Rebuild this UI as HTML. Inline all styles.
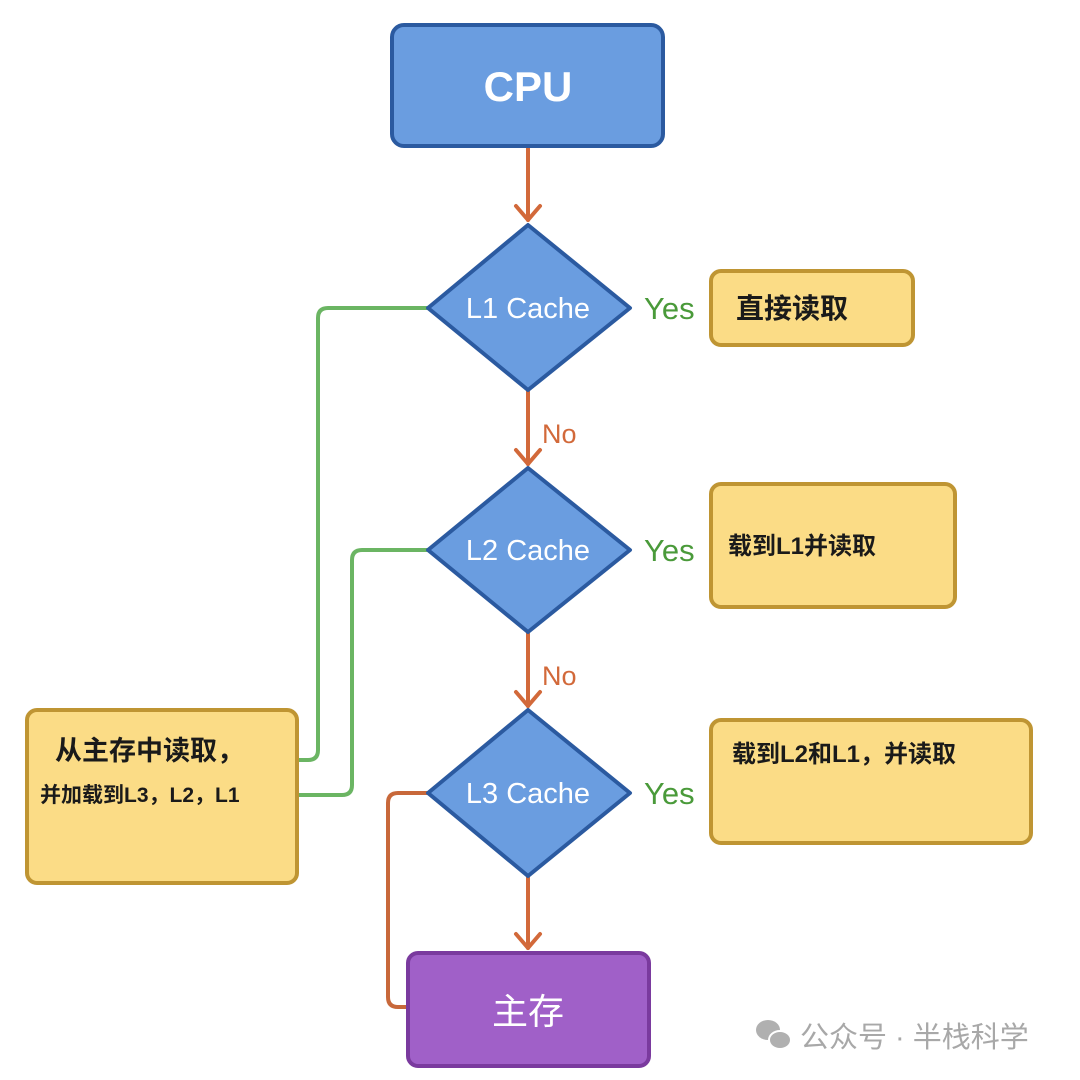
<!DOCTYPE html>
<html><head><meta charset="utf-8"><style>
html,body{margin:0;padding:0;background:#fff;width:1080px;height:1080px;overflow:hidden}
svg text{font-family:"Liberation Sans","Noto Sans CJK SC",sans-serif}
</style></head><body>
<svg width="1080" height="1080" viewBox="0 0 1080 1080" xmlns="http://www.w3.org/2000/svg">
<rect width="1080" height="1080" fill="#fff"/>
<g fill="none" stroke-width="4" stroke-linecap="round" stroke-linejoin="round">
<path d="M428 308 H328 Q318 308 318 318 V750 Q318 760 308 760 H297" stroke="#6bb563"/>
<path d="M428 550 H362 Q352 550 352 560 V785 Q352 795 342 795 H297" stroke="#6bb563"/>
<path d="M428 793 H398 Q388 793 388 803 V997 Q388 1007 398 1007 H408" stroke="#c8683a"/>
<g stroke="#d2693a">
<path d="M528 146 V220"/><path d="M516 206 L528 220 L540 206"/>
<path d="M528 390 V464"/><path d="M516 450 L528 464 L540 450"/>
<path d="M528 632 V706"/><path d="M516 692 L528 706 L540 692"/>
<path d="M528 876 V948"/><path d="M516 934 L528 948 L540 934"/>
</g>
</g>
<rect x="392" y="25" width="271" height="121" rx="12" fill="#6a9de0" stroke="#2b5aa0" stroke-width="4"/>
<text x="528" y="101" font-size="42" font-weight="bold" fill="#fff" text-anchor="middle">CPU</text>
<g fill="#6a9de0" stroke="#2b5aa0" stroke-width="4" stroke-linejoin="round">
<polygon points="528,225 630,308 528,390 428,308"/>
<polygon points="528,468 630,550 528,632 428,550"/>
<polygon points="528,710 630,793 528,876 428,793"/>
</g>
<g font-size="29" fill="#fff" text-anchor="middle">
<text x="528" y="318">L1 Cache</text>
<text x="528" y="560">L2 Cache</text>
<text x="528" y="803">L3 Cache</text>
</g>
<g font-size="31" fill="#4a9a3a">
<text x="644" y="319">Yes</text>
<text x="644" y="561">Yes</text>
<text x="644" y="804">Yes</text>
</g>
<g font-size="27" fill="#d2693a">
<text x="542" y="443">No</text>
<text x="542" y="685">No</text>
</g>
<g fill="#fbdc86" stroke="#bf9533" stroke-width="4">
<rect x="711" y="271" width="202" height="74" rx="10"/>
<rect x="711" y="484" width="244" height="123" rx="10"/>
<rect x="711" y="720" width="320" height="123" rx="10"/>
<rect x="27" y="710" width="270" height="173" rx="10"/>
</g>
<g fill="#1a1a1a" font-weight="bold">
<text x="736" y="318" font-size="28">直接读取</text>
<text x="728" y="554" font-size="24">载到L1并读取</text>
<text x="732" y="762" font-size="24">载到L2和L1，并读取</text>
<text x="55" y="760" font-size="27">从主存中读取，</text>
<text x="40" y="802" font-size="21">并加载到L3，L2，L1</text>
</g>
<rect x="408" y="953" width="241" height="113" rx="10" fill="#a060c8" stroke="#7a3a9e" stroke-width="4"/>
<text x="528" y="1024" font-size="36" fill="#fff" text-anchor="middle">主存</text>
<g fill="#b0b0b0">
<ellipse cx="768" cy="1030" rx="12" ry="10"/>
<ellipse cx="780" cy="1040" rx="11" ry="9" stroke="#fff" stroke-width="2"/>
</g>
<text x="800" y="1047" font-size="29" fill="#a8a8a8">公众号 · 半栈科学</text>
</svg>
</body></html>
